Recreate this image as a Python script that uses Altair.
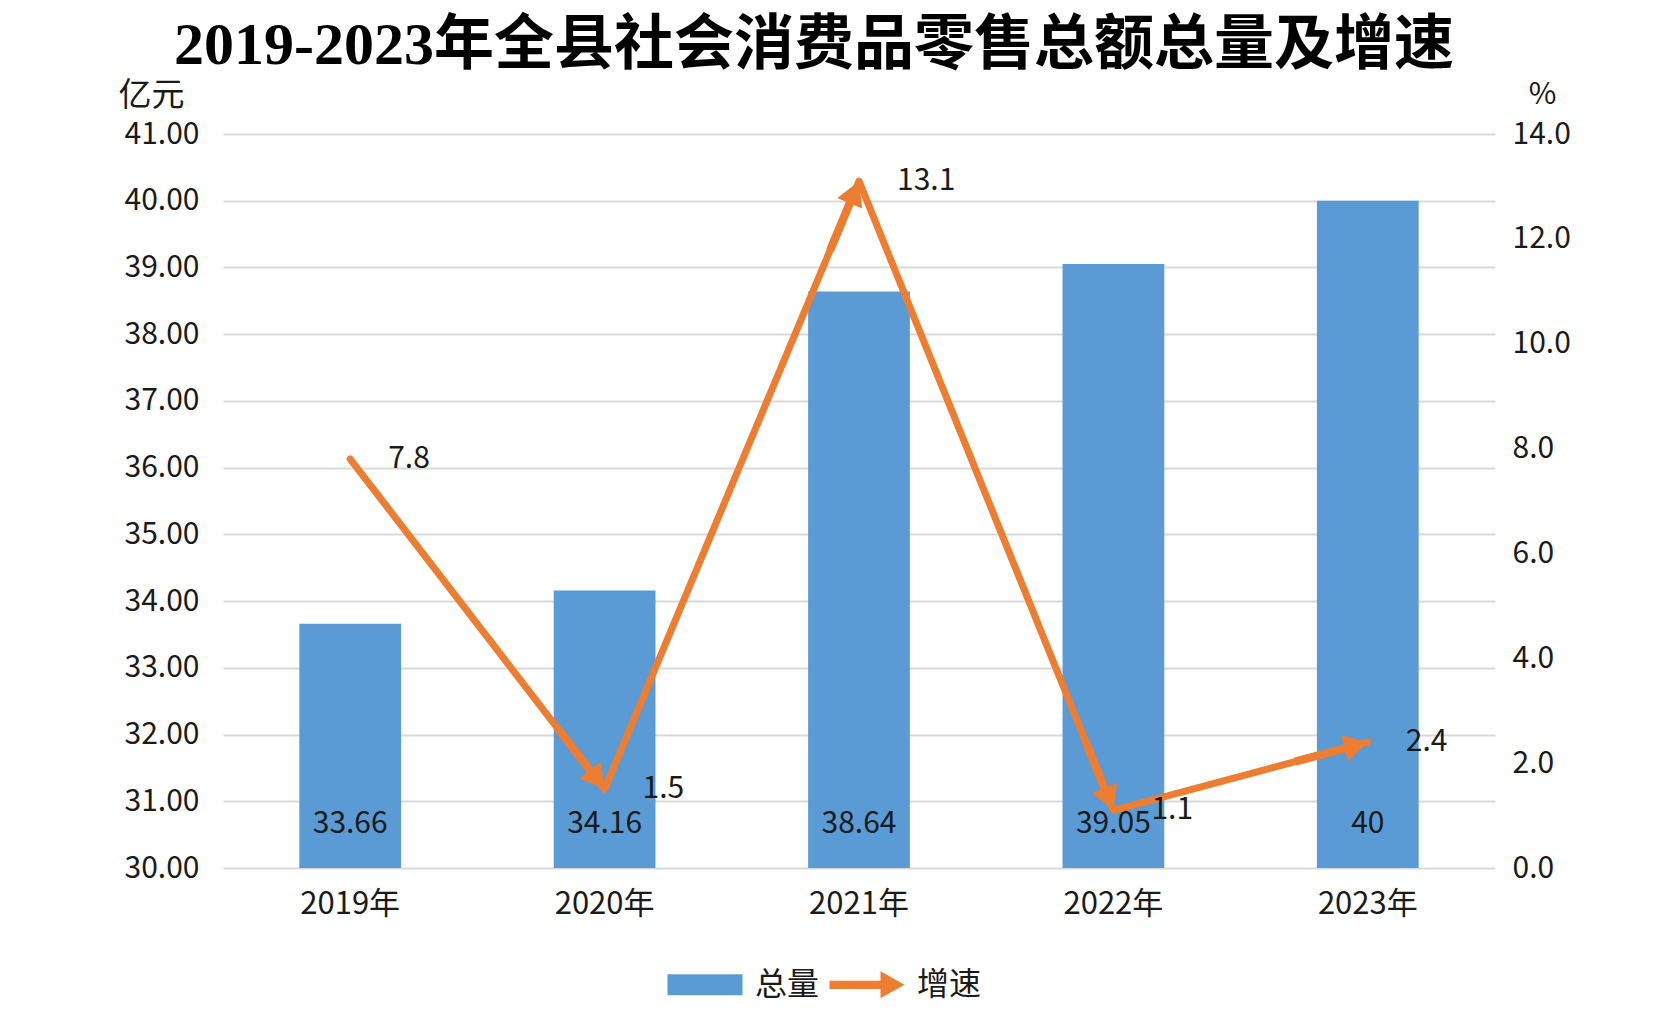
import math
import altair as alt
import pandas as pd

# ---- data ----
years = ["2019年", "2020年", "2021年", "2022年", "2023年"]
totals = [33.66, 34.16, 38.64, 39.05, 40]
total_labels = ["33.66", "34.16", "38.64", "39.05", "40"]
rates = [7.8, 1.5, 13.1, 1.1, 2.4]
rate_labels = ["7.8", "1.5", "13.1", "1.1", "2.4"]
series_names = ["总量", "增速"]
left_ticks = [30, 31, 32, 33, 34, 35, 36, 37, 38, 39, 40, 41]
right_ticks = [0, 2, 4, 6, 8, 10, 12, 14]
title_text = "2019-2023年全县社会消费品零售总额总量及增速"
left_unit = "亿元"
right_unit = "%"

# ---- style ----
BLUE = "#5B9BD5"
ORANGE = "#ED7D31"
GRID = "#D9D9D9"
TXT = "#1a1a1a"
FONT = "Noto Sans CJK SC"
W, H = 1272, 734
Y_DOMAIN = [left_ticks[0], left_ticks[-1]]
R_DOMAIN = [right_ticks[0], right_ticks[-1]]

df = pd.DataFrame({
    "year": years,
    "total": totals,
    "total_label": total_labels,
    "rate": rates,
    "rate_label": rate_labels,
    "series": series_names[1],
})

# arrow-head orientation follows each segment in screen space
step = W / len(years)
k = H / (R_DOMAIN[1] - R_DOMAIN[0])
angles = [0.0]
for i in range(1, len(rates)):
    dys = -(rates[i] - rates[i - 1]) * k
    angles.append(math.degrees(math.atan2(dys, step)) % 360)
df["angle"] = angles
heads = df.iloc[1:].copy()

ARROW = "M0,0L-0.64,-0.36L-0.64,-0.11L-2,-0.11L-2,0.11L-0.64,0.11L-0.64,0.36Z"
RECT = "M-2,-0.28L0,-0.28L0,0.28L-2,0.28Z"

xenc = alt.X(
    "year:N", sort=years,
    scale=alt.Scale(paddingInner=0.6, paddingOuter=0.3),
    axis=alt.Axis(title=None, labelAngle=0, labelFont=FONT, labelFontSize=31,
                  labelColor=TXT, labelPadding=21, ticks=False, domain=False, grid=False),
)

left_axis = alt.Axis(
    values=left_ticks, format=".2f", title=left_unit, titleAngle=0, titleX=-72, titleY=-39,
    titleAlign="center", titleBaseline="middle", titleFont=FONT, titleFontSize=33,
    titleFontWeight="normal", titleColor=TXT, labelFont=FONT, labelFontSize=30,
    labelColor=TXT, labelPadding=24, ticks=False, domain=False, grid=True,
    gridColor=GRID, gridWidth=2,
)
right_axis = alt.Axis(
    orient="right", values=right_ticks, format=".1f", title=right_unit, titleAngle=0,
    titleX=47, titleY=-40, titleAlign="center", titleBaseline="middle", titleFont=FONT,
    titleFontSize=30, titleFontWeight="normal", titleColor=TXT, labelFont=FONT,
    labelFontSize=30, labelColor=TXT, labelPadding=17, ticks=False, domain=False, grid=False,
)
left_scale = alt.Scale(domain=Y_DOMAIN, zero=False, nice=False)
right_scale = alt.Scale(domain=R_DOMAIN, zero=True, nice=False)

base = alt.Chart(df).encode(x=xenc)

bars = base.mark_bar(color=BLUE).encode(
    y=alt.Y("total:Q", scale=left_scale, axis=left_axis),
    y2=alt.datum(Y_DOMAIN[0]),
)
bar_labels = base.mark_text(font=FONT, fontSize=30, color=TXT, baseline="middle", dy=-44).encode(
    y=alt.YDatum(Y_DOMAIN[0], scale=left_scale, axis=left_axis, type="quantitative"),
    text="total_label:N",
)

line = base.mark_line(color=ORANGE, strokeWidth=7, strokeCap="round", strokeJoin="round").encode(
    y=alt.Y("rate:Q", scale=right_scale, axis=right_axis),
)

legend = alt.Legend(
    title=None, orient="none", legendX=482, legendY=813, direction="horizontal",
    labelFont=FONT, labelFontSize=32, labelColor=TXT, labelOffset=alt.ExprRef(expr="-25"),
    columnPadding=9, symbolStrokeWidth=0, symbolSize=5625,
)
head_marks = alt.Chart(heads).mark_point(filled=True, size=5625, opacity=1, strokeWidth=0).encode(
    x=xenc,
    y=alt.Y("rate:Q", scale=right_scale, axis=right_axis),
    angle=alt.Angle("angle:Q", scale=None),
    shape=alt.Shape("series:N", scale=alt.Scale(domain=series_names, range=[RECT, ARROW]), legend=legend),
    color=alt.Color("series:N", scale=alt.Scale(domain=series_names, range=[BLUE, ORANGE]), legend=legend),
)
rate_text = base.mark_text(font=FONT, fontSize=30, color=TXT, align="left", baseline="middle", dx=38).encode(
    y=alt.Y("rate:Q", scale=right_scale, axis=right_axis),
    text="rate_label:N",
)

chart = alt.layer(
    alt.layer(bars, bar_labels),
    alt.layer(line, head_marks, rate_text),
).resolve_scale(y="independent").properties(
    width=W,
    height=H,
    padding={"left": 215, "top": 126, "right": 150, "bottom": 150},
    autosize=alt.AutoSizeParams(type="none"),
    title=alt.TitleParams(
        title_text, font="Liberation Serif, Noto Sans CJK SC", fontSize=60, fontWeight="bold",
        color="#000", anchor="middle", dx=-45, offset=2,
    ),
).configure(background="white", view=alt.ViewConfig(stroke=None))

chart.save("out.html", embed_options={"renderer": "svg", "actions": False})
